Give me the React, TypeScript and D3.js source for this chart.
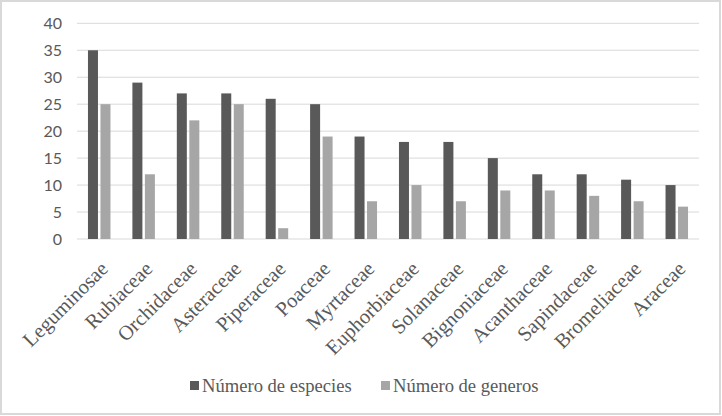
import React from "react";
import * as d3 from "d3";

const categories = [
  "Leguminosae", "Rubiaceae", "Orchidaceae", "Asteraceae", "Piperaceae", "Poaceae",
  "Myrtaceae", "Euphorbiaceae", "Solanaceae", "Bignoniaceae", "Acanthaceae",
  "Sapindaceae", "Bromeliaceae", "Araceae",
];
const especies = [35, 29, 27, 27, 26, 25, 19, 18, 18, 15, 12, 12, 11, 10];
const generos = [25, 12, 22, 25, 2, 19, 7, 10, 7, 9, 9, 8, 7, 6];
const yTicks = [0, 5, 10, 15, 20, 25, 30, 35, 40];
const seriesNames = ["Número de especies", "Número de generos"];
const seriesColors = ["#595959", "#a6a6a6"];

const W = 722;
const H = 416;
const left = 77;
const right = 699;
const top = 23.3;
const bottom = 239;
const serif = "Liberation Serif";
const sans = "Lato";

export default function App() {
  const x = d3.scaleBand<string>().domain(categories).range([left, right]).padding(0);
  const y = d3.scaleLinear().domain([0, 40]).range([bottom, top]);
  const barW = 10;
  const gap = 2.5;
  const series = [especies, generos];

  return (
    <svg
      width={W}
      height={H}
      style={{ position: "absolute", left: 0, top: 0, background: "#fff" }}
    >
      <rect x={1} y={1} width={W - 3} height={H - 3} fill="#fff" stroke="#d9d9d9" strokeWidth={2} />
      {yTicks.map((t) => (
        <g key={t}>
          <line x1={left} x2={right} y1={y(t)} y2={y(t)} stroke="#d9d9d9" strokeWidth={1} />
          <text
            x={62}
            y={y(t)}
            dy="0.36em"
            textAnchor="end"
            style={{ fontFamily: sans, fontSize: 16 }}
            fill="#595959"
          >
            {t}
          </text>
        </g>
      ))}
      {series.map((vals, si) =>
        vals.map((v, i) => {
          const cx = x(categories[i])! + x.bandwidth() / 2;
          const bx = si === 0 ? cx - gap / 2 - barW : cx + gap / 2;
          return (
            <rect
              key={`${si}-${i}`}
              x={bx}
              y={y(v)}
              width={barW}
              height={y(0) - y(v)}
              fill={seriesColors[si]}
            />
          );
        })
      )}
      {categories.map((c) => {
        const cx = x(c)! + x.bandwidth() / 2;
        return (
          <text
            key={c}
            transform={`translate(${cx + 10},${270}) rotate(-45)`}
            textAnchor="end"
            style={{ fontFamily: serif, fontSize: 20.5 }}
            fill="#595959"
          >
            {c}
          </text>
        );
      })}
      {seriesNames.map((n, i) => {
        const lx = i === 0 ? 190 : 381;
        return (
          <g key={n}>
            <rect x={lx} y={381} width={9} height={9} fill={seriesColors[i]} />
            <text
              x={lx + 12}
              y={392}
              style={{ fontFamily: serif, fontSize: 18.6 }}
              fill="#595959"
            >
              {n}
            </text>
          </g>
        );
      })}
    </svg>
  );
}
